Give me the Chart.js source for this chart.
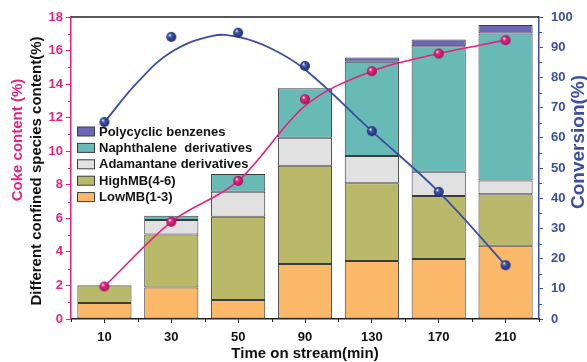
<!DOCTYPE html>
<html><head><meta charset="utf-8">
<script src="https://cdn.jsdelivr.net/npm/chart.js@4.4.1/dist/chart.umd.min.js"></script>
<style>html,body{margin:0;padding:0;background:#fff}#wrap{width:587px;height:362px;position:relative}</style>
</head><body><div id="wrap"><canvas id="c" width="587" height="362"></canvas></div>
<script>
// ---- data ----
const categories = ['10','30','50','90','130','170','210'];
const lowMB       = [0.95, 1.88, 1.13, 3.28, 3.45, 3.57, 4.36];
const highMB      = [1.05, 3.15, 4.97, 5.86, 4.64, 3.76, 3.08];
const adamantane  = [0.03, 0.87, 1.49, 1.66, 1.62, 1.45, 0.81];
const naphthalene = [0.00, 0.25, 1.05, 2.95, 5.62, 7.48, 8.76];
const polycyclic  = [0.00, 0.00, 0.00, 0.00, 0.25, 0.40, 0.52];
const cokeContent = [1.94, 5.79, 8.23, 13.1, 14.77, 15.82, 16.62];
const cokeFit     = [1.94, 5.79, 8.23, 12.7, 14.77, 15.82, 16.62];
const conversion  = [65.2, 93.4, 94.8, 83.8, 62.2, 42.1, 17.8];
// fitted conversion curve (x = category index)
const convFitX    = [0, 0.5, 1, 1.6, 2, 2.5, 3, 4, 5, 6];
const convFitY    = [65.2, 78.5, 88.4, 93.7, 93.4, 89.5, 82.6, 62.2, 42.1, 17.8];
const leftTicks   = {min: 0, max: 18, step: 2};
const rightTicks  = {min: 0, max: 100, step: 10};

const PINK = '#E8207F', BLUE = '#3A4FA3';
const FONT = 'Liberation Sans, Arial, sans-serif';

function sphere(color, dark, r) {
  const c = document.createElement('canvas');
  const s = r * 2 + 2; c.width = c.height = s;
  const x = c.getContext('2d');
  const cx = s / 2, cy = s / 2;
  const g = x.createRadialGradient(cx - r * 0.35, cy - r * 0.4, r * 0.05, cx, cy, r);
  g.addColorStop(0, '#ffffff');
  g.addColorStop(0.3, color);
  g.addColorStop(1, dark);
  x.fillStyle = g; x.beginPath(); x.arc(cx, cy, r, 0, Math.PI * 2); x.fill();
  return c;
}
const pinkBall = sphere('#EC2A8C', '#A0105A', 5);
const blueBall = sphere('#4258B0', '#1E2C6E', 5);

const EDGE = '#3c3c3c';
function barDs(label, data, color) {
  return {type: 'bar', label, data, backgroundColor: color, borderColor: EDGE, borderWidth: 1,
    borderSkipped: false, yAxisID: 'y', xAxisID: 'x', stack: 's', order: 10, grouped: false,
    barPercentage: 0.81, categoryPercentage: 1.0};
}

const legendItems = [
  ['Polycyclic benzenes', '#6A68B5'],
  ['Naphthalene  derivatives', '#68BAB7'],
  ['Adamantane derivatives', '#E1E1E1'],
  ['HighMB(4-6)', '#BAB96A'],
  ['LowMB(1-3)', '#FBB868']
];

const extras = {
  id: 'extras',
  afterDraw(chart) {
    const ctx = chart.ctx, a = chart.chartArea;
    const yL = chart.scales.y, yR = chart.scales.yR, xf = chart.scales.xFit;
    ctx.save();
    // top border
    ctx.strokeStyle = '#222'; ctx.lineWidth = 1.5;
    ctx.beginPath(); ctx.moveTo(a.left, a.top); ctx.lineTo(a.right, a.top); ctx.stroke();
    // minor ticks
    ctx.lineWidth = 1;
    ctx.strokeStyle = PINK;
    for (let v = 1; v < 18; v += 2) { const p = Math.round(yL.getPixelForValue(v)) + 0.5; ctx.beginPath(); ctx.moveTo(a.left - 3, p); ctx.lineTo(a.left, p); ctx.stroke(); }
    ctx.strokeStyle = BLUE;
    for (let v = 5; v < 100; v += 10) { const p = Math.round(yR.getPixelForValue(v)) + 0.5; ctx.beginPath(); ctx.moveTo(a.right, p); ctx.lineTo(a.right + 3, p); ctx.stroke(); }
    ctx.strokeStyle = '#222';
    for (let i = -0.5; i <= 6.5; i += 1) { const p = Math.round(xf.getPixelForValue(i)) + 0.5; ctx.beginPath(); ctx.moveTo(p, a.bottom); ctx.lineTo(p, a.bottom + 3); ctx.stroke(); }
    // axis titles
    ctx.font = 'bold 15px ' + FONT; ctx.textAlign = 'center'; ctx.textBaseline = 'middle';
    ctx.save(); ctx.translate(18, 140); ctx.rotate(-Math.PI / 2); ctx.fillStyle = PINK; ctx.fillText('Coke content (%)', 0, 0); ctx.restore();
    ctx.save(); ctx.translate(37, 171); ctx.rotate(-Math.PI / 2); ctx.fillStyle = '#111'; ctx.fillText('Different confined species content(%)', 0, 0); ctx.restore();
    ctx.save(); ctx.font = 'bold 19px ' + FONT; ctx.translate(579, 142); ctx.rotate(-Math.PI / 2); ctx.fillStyle = BLUE; ctx.fillText('Conversion(%)', 0, 0); ctx.restore();
    ctx.fillStyle = '#111'; ctx.font = 'bold 15px ' + FONT;
    ctx.fillText('Time on stream(min)', (a.left + a.right) / 2, 354);
    // legend
    ctx.font = 'bold 13px ' + FONT; ctx.textAlign = 'left';
    legendItems.forEach((it, i) => {
      const cy = 131.5 + i * 16.4;
      ctx.fillStyle = it[1]; ctx.fillRect(77, cy - 4.5, 18, 9);
      ctx.strokeStyle = EDGE; ctx.lineWidth = 1; ctx.strokeRect(77.5, cy - 4.5, 17, 9);
      ctx.fillStyle = '#111'; ctx.fillText(it[0], 99, cy + 0.5);
    });
    ctx.restore();
  }
};

new Chart(document.getElementById('c'), {
  type: 'bar',
  data: {
    labels: categories,
    datasets: [
      barDs('LowMB(1-3)', lowMB, '#FBB868'),
      barDs('HighMB(4-6)', highMB, '#BAB96A'),
      barDs('Adamantane derivatives', adamantane, '#E1E1E1'),
      barDs('Naphthalene  derivatives', naphthalene, '#68BAB7'),
      barDs('Polycyclic benzenes', polycyclic, '#6A68B5'),
      {type: 'line', label: 'cokeFit', data: cokeFit, yAxisID: 'yC', xAxisID: 'x', borderColor: PINK,
        borderWidth: 1.6, pointRadius: 0, cubicInterpolationMode: 'monotone', fill: false, order: 2},
      {type: 'line', label: 'Coke content', data: cokeContent, yAxisID: 'yC', xAxisID: 'x', showLine: false,
        pointStyle: pinkBall, pointRadius: 5, order: 1},
      {type: 'line', label: 'convFit', data: convFitX.map((x, i) => ({x, y: convFitY[i]})), yAxisID: 'yR', xAxisID: 'xFit',
        borderColor: BLUE, borderWidth: 1.8, pointRadius: 0, tension: 0.4, fill: false, order: 2},
      {type: 'line', label: 'Conversion', data: conversion, yAxisID: 'yR', xAxisID: 'x', showLine: false,
        pointStyle: blueBall, pointRadius: 5, order: 1}
    ]
  },
  options: {
    responsive: false, animation: false,
    layout: {padding: {top: 17, left: 0, right: 0, bottom: 0}},
    plugins: {legend: {display: false}, tooltip: {enabled: false}},
    scales: {
      x: {type: 'category', stacked: true, offset: true,
        grid: {display: true, drawOnChartArea: false, offset: false, tickLength: 4, color: '#222'},
        border: {display: true, color: '#222', width: 1.5},
        ticks: {color: '#111', font: {family: FONT, size: 13, weight: 'bold'}, padding: 7, maxRotation: 0},
        afterFit(s) { s.height = 43; }},
      xFit: {type: 'linear', display: false, offset: false, min: -0.5, max: 6.5},
      y: {type: 'linear', position: 'left', stacked: true, min: leftTicks.min, max: leftTicks.max,
        grid: {display: true, drawOnChartArea: false, tickLength: 5, color: PINK},
        border: {display: true, color: PINK, width: 1.5},
        ticks: {stepSize: leftTicks.step, color: PINK, font: {family: FONT, size: 13, weight: 'bold'}, padding: 3},
        afterFit(s) { s.width = 71; }},
      yC: {type: 'linear', display: false, min: leftTicks.min, max: leftTicks.max},
      yR: {type: 'linear', position: 'right', min: rightTicks.min, max: rightTicks.max,
        grid: {display: true, drawOnChartArea: false, tickLength: 4, color: BLUE},
        border: {display: true, color: BLUE, width: 1.5},
        ticks: {stepSize: rightTicks.step, color: BLUE, font: {family: FONT, size: 13, weight: 'bold'}, padding: 8},
        afterFit(s) { s.width = 48; }}
    }
  },
  plugins: [extras]
});
</script></body></html>
